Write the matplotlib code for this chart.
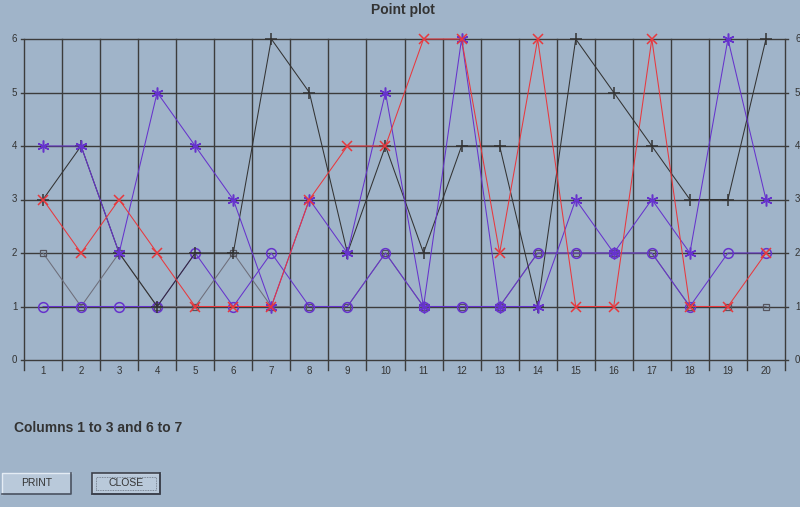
import matplotlib
matplotlib.use("Agg")
import matplotlib.pyplot as plt
from matplotlib.patches import Rectangle

plt.rcParams['font.family'] = ['Liberation Sans', 'DejaVu Sans']

# data
cats = list(range(1, 21))
col_plus = [3, 4, 2, 1, 2, 2, 6, 5, 2, 4, 2, 4, 4, 1, 6, 5, 4, 3, 3, 6]
col_cross = [3, 2, 3, 2, 1, 1, 1, 3, 4, 4, 6, 6, 2, 6, 1, 1, 6, 1, 1, 2]
col_star = [4, 4, 2, 5, 4, 3, 1, 3, 2, 5, 1, 6, 1, 1, 3, 2, 3, 2, 6, 3]
col_square = [2, 1, 2, 1, 1, 2, 1, 1, 1, 2, 1, 1, 1, 2, 2, 2, 2, 1, 1, 1]
col_circle = [1, 1, 1, 1, 2, 1, 2, 1, 1, 2, 1, 1, 1, 2, 2, 2, 2, 1, 2, 2]
y_ticks = [0, 1, 2, 3, 4, 5, 6]

title = "Point plot"
caption = "Columns 1 to 3 and 6 to 7"

BG = '#a0b4c9'
GRID = '#3c3c3c'
TXT = '#333333'

W, H = 800, 507
fig = plt.figure(figsize=(W / 100, H / 100), dpi=100, facecolor=BG)

# plot area in pixels: x 24..785, y 39..360
left, right, top, bottom = 24, 785, 39, 360
ax = fig.add_axes([left / W, 1 - bottom / H, (right - left) / W, (bottom - top) / H])
ax.set_facecolor(BG)
ax.set_xlim(0.5, 20.5)
ax.set_ylim(0, 6)
for s in ax.spines.values():
    s.set_visible(False)

px_y = 6 / (bottom - top)        # data units per pixel (y)
px_x = 20 / (right - left)       # data units per pixel (x)

# grid
for v in y_ticks:
    ax.plot([0.5 - 3 * px_x, 20.5 + 3 * px_x], [v, v],
            color=GRID, lw=1.0, clip_on=False, zorder=1)
for b in [c - 0.5 for c in cats] + [20.5]:
    ax.plot([b, b], [-10 * px_y, 6], color=GRID, lw=1.0, clip_on=False, zorder=1)

ax.set_xticks([])
ax.set_yticks([])
for v in y_ticks:
    ax.text(0.5 - 12 * px_x, v, str(v), ha='left', va='center',
            fontsize=7, color=TXT)
    ax.text(20.5 + 10 * px_x, v, str(v), ha='left', va='center',
            fontsize=7, color=TXT)
for c in cats:
    ax.text(c, -11 * px_y, str(c), ha='center', va='center', fontsize=7, color=TXT)

lw = 0.75
ax.plot(cats, col_square, color='#6e6e7a', lw=lw, marker='s', ms=5,
        mfc='none', mec='#55555f', mew=0.9, zorder=3, clip_on=False)
ax.plot(cats, col_circle, color='#6633cc', lw=lw, marker='o', ms=7,
        mfc='none', mec='#6633cc', mew=1.1, zorder=4, clip_on=False)
ax.plot(cats, col_plus, color='#333333', lw=lw, marker='+', ms=9,
        mec='#333333', mew=1.1, zorder=5, clip_on=False)
ax.plot(cats, col_star, color='#6633cc', lw=lw, marker=(6, 2, 0), ms=8.5,
        mec='#6633cc', mew=1.1, zorder=6, clip_on=False)
ax.plot(cats, col_cross, color='#e8383d', lw=lw, marker='x', ms=7,
        mec='#e8383d', mew=1.1, zorder=7, clip_on=False)

fig.text(403 / W, 1 - 3 / H, title, ha='center', va='top',
         fontsize=10, fontweight='bold', color=TXT)
fig.text(14 / W, 1 - 428 / H, caption, ha='left', va='center',
         fontsize=10, fontweight='bold', color=TXT)


def button(x0, y0, x1, y1, label, focused=False):
    fig.patches.append(Rectangle((x0 / W, 1 - y1 / H), (x1 - x0) / W, (y1 - y0) / H,
                                 transform=fig.transFigure, facecolor='#b9c9da',
                                 edgecolor='none', zorder=1))
    # bevel
    fig.lines.append(plt.Line2D([x0 / W, x0 / W, x1 / W], [1 - y1 / H, 1 - y0 / H, 1 - y0 / H],
                                transform=fig.transFigure, color='#e4ecf4', lw=1))
    fig.lines.append(plt.Line2D([x0 / W, x1 / W, x1 / W], [1 - y1 / H, 1 - y1 / H, 1 - y0 / H],
                                transform=fig.transFigure, color='#4a5260', lw=1.2))
    if focused:
        fig.patches.append(Rectangle((x0 / W, 1 - y1 / H), (x1 - x0) / W, (y1 - y0) / H,
                                     transform=fig.transFigure, facecolor='none',
                                     edgecolor='#3a3f4a', lw=1.2, zorder=2))
        fig.patches.append(Rectangle(((x0 + 4) / W, 1 - (y1 - 4) / H), (x1 - x0 - 8) / W,
                                     (y1 - y0 - 8) / H, transform=fig.transFigure,
                                     facecolor='none', edgecolor='#6a7280', lw=0.6,
                                     ls=(0, (1, 1)), zorder=2))
    fig.text((x0 + x1) / 2 / W, 1 - (y0 + y1) / 2 / H, label, ha='center', va='center',
             fontsize=7.5, color=TXT)


button(2, 473, 71, 494, "PRINT")
button(92, 473, 160, 494, "CLOSE", focused=True)

fig.savefig("out.png", dpi=100, facecolor=BG)
